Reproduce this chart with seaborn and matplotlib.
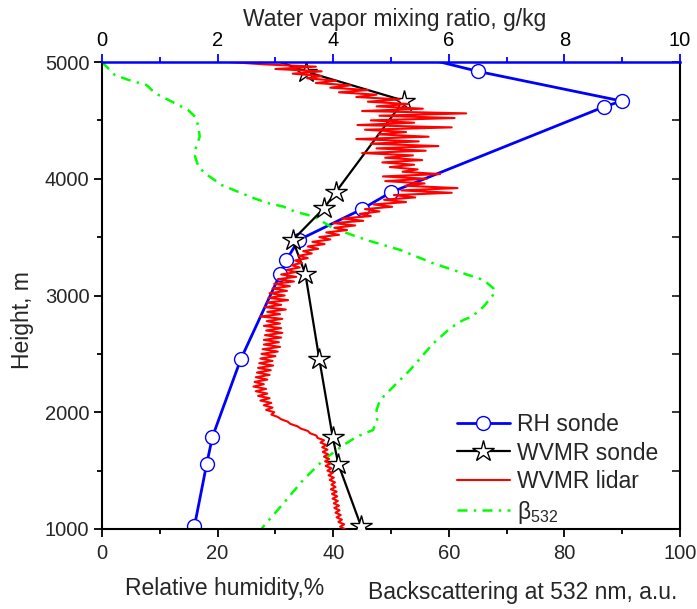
import matplotlib
matplotlib.use("Agg")
import matplotlib.pyplot as plt
from matplotlib.ticker import MultipleLocator
import seaborn as sns

sns.set_style("ticks")
plt.rcParams["font.family"] = ["Liberation Sans", "DejaVu Sans"]
plt.rcParams["mathtext.fontset"] = "custom"
plt.rcParams["mathtext.rm"] = "Liberation Sans"
plt.rcParams["mathtext.it"] = "Liberation Sans:italic"
plt.rcParams["mathtext.default"] = "regular"

# ---------------- data ----------------
# Radiosonde relative humidity (%), bottom axis
rh_height = [5100, 4919, 4666, 4617, 3884, 3738, 3475, 3304, 3181, 2453, 1788, 1554, 1026]
rh_value = [50.4, 65.1, 89.9, 86.9, 50.0, 44.9, 34.0, 31.9, 30.8, 24.0, 19.1, 18.1, 16.0]

# Radiosonde water vapour mixing ratio (g/kg), top axis
wv_sonde_height = [5100, 4917, 4669, 3889, 3747, 3475, 3181, 2453, 1791, 1554, 1026]
wv_sonde_value = [2.55, 3.53, 5.22, 4.05, 3.84, 3.30, 3.52, 3.76, 3.99, 4.09, 4.48]

# Lidar water vapour mixing ratio (g/kg), top axis, 20 m bins 1000..5000 m
lidar_height = list(range(1000, 5001, 20))
lidar_wvmr = [
    4.20, 4.12, 4.19, 4.09, 4.15,   # 1000
    4.06, 4.13, 4.04, 4.11, 4.02,   # 1100
    4.10, 4.01, 4.08, 3.99, 4.07,   # 1200
    3.98, 4.06, 3.96, 4.04, 3.97,   # 1300
    4.03, 3.94, 4.01, 3.92, 3.99,   # 1400
    3.90, 3.97, 3.87, 3.95, 3.86,   # 1500
    3.93, 3.84, 3.91, 3.82, 3.90,   # 1600
    3.81, 3.88, 3.78, 3.84, 3.73,   # 1700
    3.71, 3.60, 3.56, 3.44, 3.38,   # 1800
    3.26, 3.21, 3.10, 3.04, 2.93,   # 1900
    2.98, 2.84, 2.95, 2.80, 2.93,   # 2000
    2.74, 2.90, 2.70, 2.86, 2.66,   # 2100
    2.84, 2.62, 2.80, 2.64, 2.86,   # 2200
    2.66, 2.90, 2.68, 2.92, 2.70,   # 2300
    2.96, 2.72, 2.95, 2.74, 3.00,   # 2400
    2.76, 3.04, 2.78, 3.08, 2.80,   # 2500
    3.06, 2.80, 3.10, 2.82, 3.12,   # 2600
    2.84, 3.10, 2.80, 3.08, 2.85,   # 2700
    3.12, 2.74, 3.08, 2.86, 3.18,   # 2800
    2.82, 3.10, 2.86, 3.22, 2.88,   # 2900
    3.16, 2.90, 3.20, 2.95, 3.25,   # 3000
    2.98, 3.32, 3.04, 3.36, 3.10,   # 3100
    3.35, 3.20, 3.42, 3.28, 3.46,   # 3200
    3.34, 3.56, 3.40, 3.63, 3.48,   # 3300
    3.74, 3.56, 3.85, 3.64, 3.95,   # 3400
    3.76, 4.10, 3.88, 4.24, 4.02,   # 3500
    4.38, 4.00, 4.52, 4.15, 4.65,   # 3600
    4.46, 4.80, 4.55, 5.02, 4.70,   # 3700
    5.26, 4.88, 5.42, 5.05, 6.05,   # 3800
    5.18, 6.15, 5.25, 5.58, 4.90,   # 3900
    5.62, 4.86, 5.85, 5.20, 5.46,   # 4000
    4.98, 5.40, 4.85, 5.54, 4.90,   # 4100
    5.38, 4.50, 5.60, 4.75, 5.82,   # 4200
    4.65, 5.48, 4.40, 5.65, 4.78,   # 4300
    5.26, 4.55, 6.05, 4.42, 5.40,   # 4400
    4.65, 6.10, 4.80, 6.30, 4.50,   # 4500
    5.55, 4.75, 5.30, 4.60, 5.15,   # 4600
    4.40, 4.75, 4.10, 4.60, 3.95,   # 4700
    4.30, 3.70, 4.05, 3.55, 3.80,   # 4800
    3.30, 3.80, 3.00, 3.70, 2.80,   # 4900
    2.20,                           # 5000
]

# Backscattering at 532 nm (a.u.), bottom axis
beta_height = [5000, 4989, 4889, 4846, 4803, 4732, 4675, 4589, 4532, 4446, 4360,
               4246, 4189, 4103, 4047, 3946, 3875, 3833, 3790, 3761, 3718, 3675,
               3575, 3475, 3390, 3276, 3190, 3133, 3062, 3020, 2990, 2904, 2819,
               2790, 2719, 2619, 2590, 2362, 2219, 2105, 2019, 1934, 1848, 1791,
               1720, 1591, 1420, 1220, 1020, 1000]
beta_value = [0.0, 0.2, 2.2, 4.6, 7.7, 9.2, 11.5, 14.9, 16.1, 16.7, 16.9,
              16.1, 16.1, 16.7, 17.8, 20.7, 24.2, 26.3, 28.8, 31.4, 33.4, 36.8,
              40.0, 45.8, 51.6, 57.3, 62.5, 66.0, 67.7, 68.0, 67.4, 66.0, 64.0,
              62.5, 60.2, 58.0, 57.3, 53.3, 50.4, 48.1, 47.5, 47.6, 46.9, 44.1,
              41.8, 38.3, 34.8, 31.4, 27.9, 27.6]

# ---------------- figure ----------------
W, H = 697, 609
fig = plt.figure(figsize=(W / 100, H / 100), dpi=100)
ax = fig.add_axes([102 / W, 1 - 529 / H, 578 / W, 467 / H])
ax.set_facecolor("white")
ax2 = ax.twiny()

BLUE = "#0000FF"
RED = "#FF0000"
GREEN = "#00FF00"

sns.lineplot(x=rh_value, y=rh_height, ax=ax, sort=False, estimator=None, orient="y",
             color=BLUE, lw=2.0, marker="o", ms=10, mfc="white", mec=BLUE, mew=1.0)
h_rh = ax.lines[-1]
sns.lineplot(x=beta_value, y=beta_height, ax=ax, sort=False, estimator=None, orient="y",
             color=GREEN, lw=1.8, linestyle=(0, (4, 2.5, 1, 2.5)))
h_beta = ax.lines[-1]

sns.lineplot(x=wv_sonde_value, y=wv_sonde_height, ax=ax2, sort=False, estimator=None,
             orient="y", color="black", lw=1.6, marker="*", ms=16, mfc="white",
             mec="black", mew=1.0)
h_wvs = ax2.lines[-1]
sns.lineplot(x=lidar_wvmr, y=lidar_height, ax=ax2, sort=False, estimator=None,
             orient="y", color=RED, lw=1.5)
h_lid = ax2.lines[-1]

ax.set_xlim(0, 100)
ax.set_ylim(1000, 5000)
ax2.set_xlim(0, 10)
ax2.set_ylim(1000, 5000)
ax.set_xlabel("")
ax.set_ylabel("")
ax2.set_xlabel("")
ax2.set_ylabel("")

# ticks
ax.xaxis.set_major_locator(MultipleLocator(20))
ax.xaxis.set_minor_locator(MultipleLocator(10))
ax.yaxis.set_major_locator(MultipleLocator(1000))
ax.yaxis.set_minor_locator(MultipleLocator(500))
ax2.xaxis.set_major_locator(MultipleLocator(2))
ax2.xaxis.set_minor_locator(MultipleLocator(1))

ax.tick_params(axis="both", which="major", direction="out", length=6, width=1.3,
               labelsize=14.5, color="black")
ax.tick_params(axis="both", which="minor", direction="out", length=3.6, width=1.3,
               color="black")
ax.tick_params(axis="x", pad=5)
ax.tick_params(axis="y", pad=3)
ax2.tick_params(axis="x", which="major", direction="out", length=6, width=1.3,
                labelsize=14.5, color=BLUE, labelcolor="black", pad=3)
ax2.tick_params(axis="x", which="minor", direction="out", length=3.6, width=1.3,
                color=BLUE)

for s in ["left", "bottom"]:
    ax.spines[s].set_color("black")
    ax.spines[s].set_linewidth(1.5)
ax.spines["top"].set_visible(False)
ax.spines["right"].set_visible(False)
for s in ["left", "bottom", "right"]:
    ax2.spines[s].set_visible(False)
ax2.spines["top"].set_color(BLUE)
ax2.spines["top"].set_linewidth(1.8)

sec = ax.secondary_yaxis("right")
sec.yaxis.set_major_locator(MultipleLocator(1000))
sec.yaxis.set_minor_locator(MultipleLocator(500))
sec.tick_params(axis="y", which="major", direction="in", length=6, width=1.3,
                labelright=False)
sec.tick_params(axis="y", which="minor", direction="in", length=6, width=1.3,
                labelright=False)
sec.spines["right"].set_color("black")
sec.spines["right"].set_linewidth(1.5)

# axis titles
FS = 16.5
fig.text(395 / W, 1 - 26 / H, "Water vapor mixing ratio, g/kg", ha="center",
         va="baseline", fontsize=FS)
fig.text(225 / W, 1 - 595 / H, "Relative humidity,%", ha="center",
         va="baseline", fontsize=FS)
fig.text(523 / W, 1 - 599 / H, "Backscattering at 532 nm, a.u.", ha="center",
         va="baseline", fontsize=FS)
fig.text(22 / W, 1 - 320 / H, "Height, m", rotation=90, ha="center",
         va="center", fontsize=FS)

# legend
leg = ax2.legend([h_rh, h_wvs, h_lid, h_beta],
                 ["RH sonde", "WVMR sonde", "WVMR lidar", "β$_{532}$"],
                 loc="upper left", bbox_to_anchor=(457 / W, 1 - 413 / H),
                 bbox_transform=fig.transFigure, frameon=False, fontsize=FS,
                 handlelength=2.3, handletextpad=0.3, labelspacing=0.24,
                 borderpad=0, borderaxespad=0)

fig.savefig("out.png", dpi=100)
